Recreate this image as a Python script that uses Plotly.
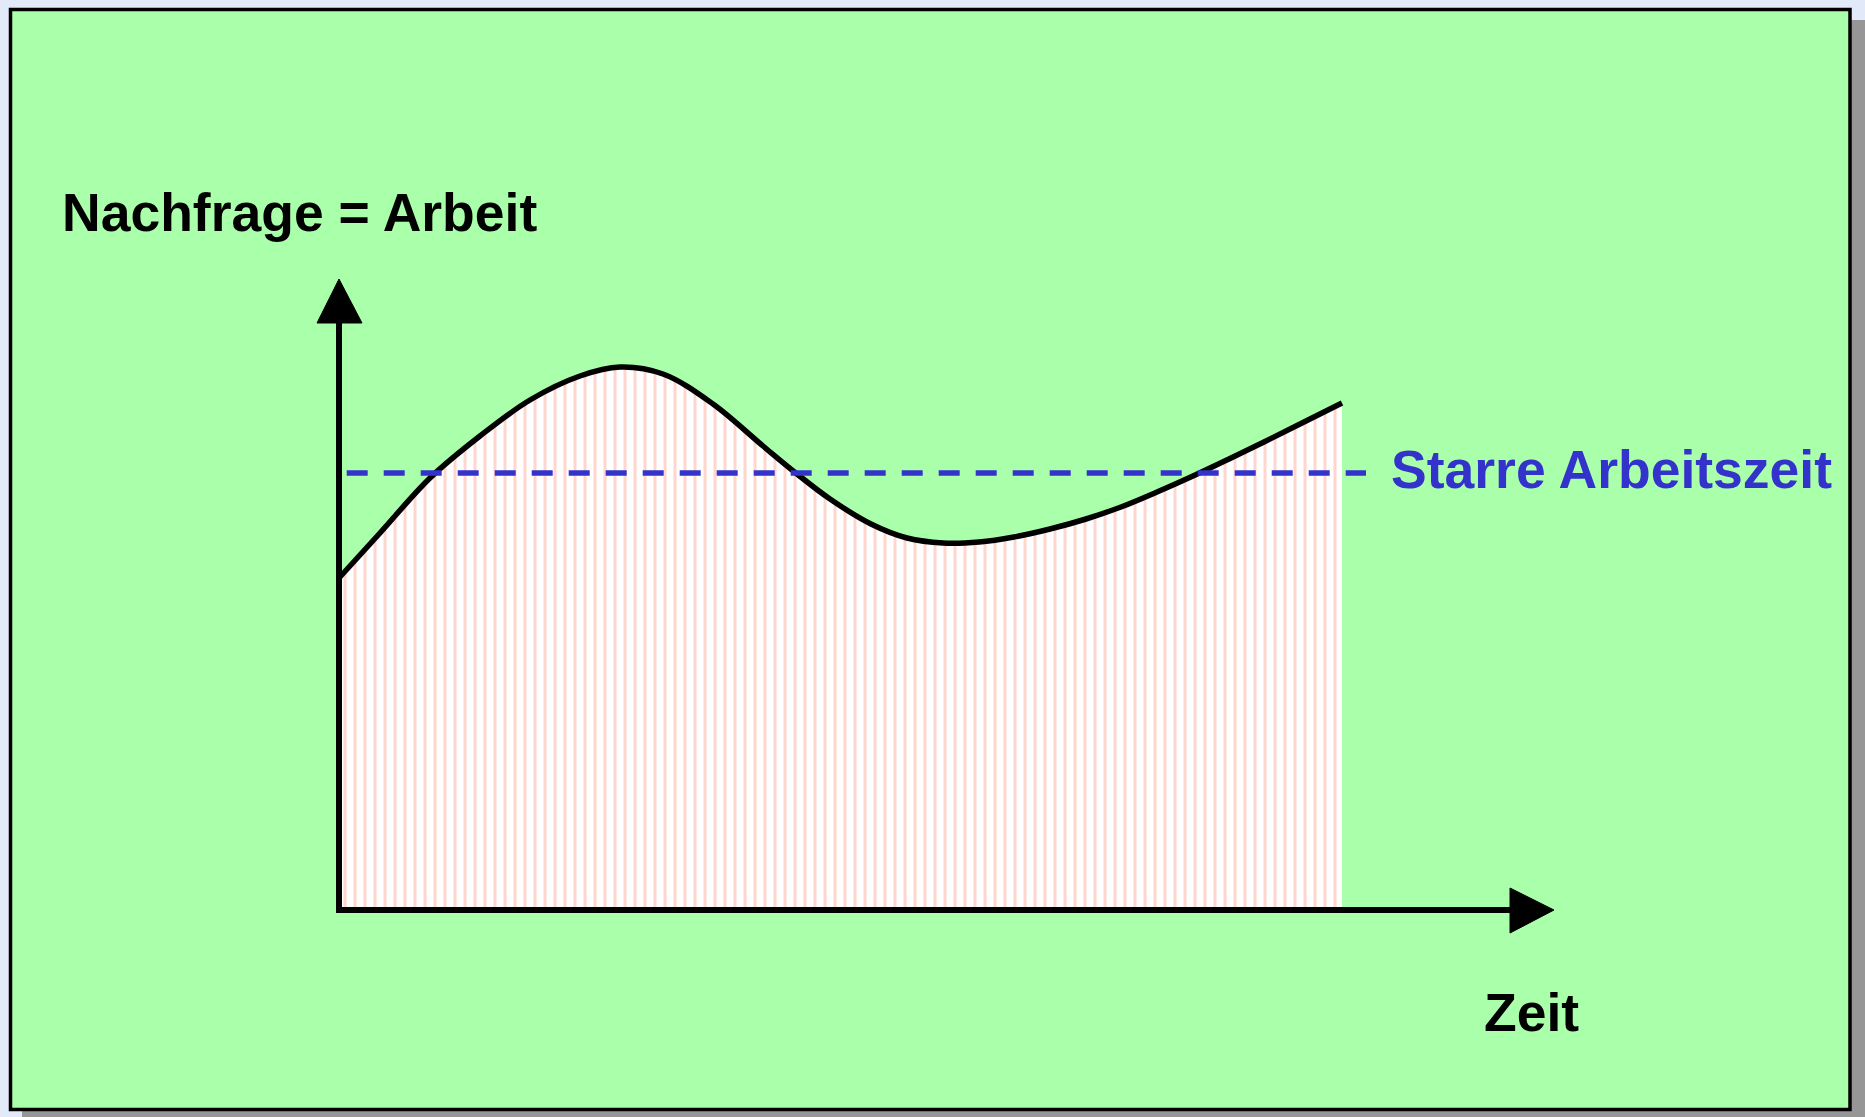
import plotly.graph_objects as go

# ---- data (chart units: time offset and demand above the time axis) ----
time = [0, 41, 91, 141, 191, 241, 281, 324, 374, 424, 458, 491, 532, 568, 604,
        640, 675, 711, 747, 782, 818, 854, 890, 925, 963, 1003]
demand = [332, 377, 432, 474, 510, 534, 543, 536, 506, 464, 436, 411, 386, 372, 367,
          368, 373, 381, 391, 403, 418, 434, 451, 468, 487, 507]
fixed_level = 437          # "Starre Arbeitszeit"
fixed_span = [7.7, 1027]

y_label = "Nachfrage = Arbeit"
x_label = "Zeit"
fixed_label = "Starre Arbeitszeit"

W, H = 1865, 1117
OX, OY = 339, 910          # pixel position of the axis origin


def px(x):
    return x / W


def py(y):
    return 1 - y / H


fig = go.Figure()

fig.add_trace(go.Scatter(
    x=time, y=demand, mode="lines",
    line=dict(color="black", width=5.5, shape="spline", smoothing=1.0, simplify=False),
    fill="tozeroy", fillcolor="white",
    fillpattern=dict(shape="|", bgcolor="white", fgcolor="#ffac9c",
                     size=10, solidity=0.3),
    hoverinfo="skip", showlegend=False,
))

fig.add_trace(go.Scatter(
    x=fixed_span, y=[fixed_level, fixed_level], mode="lines",
    line=dict(color="#3333cc", width=5.5, dash="21px,16px"),
    hoverinfo="skip", showlegend=False,
))

shapes = []
# shadow
shapes.append(dict(type="rect", xref="paper", yref="paper",
                   x0=px(22), x1=px(1880), y0=py(20), y1=py(1130),
                   fillcolor="#969696", line=dict(width=0), layer="below"))
# green panel
shapes.append(dict(type="rect", xref="paper", yref="paper",
                   x0=px(10.5), x1=px(1850), y0=py(9.5), y1=py(1109.5),
                   fillcolor="#aaffaa", line=dict(color="black", width=3.5),
                   layer="below"))
# vertical axis line + arrow
shapes.append(dict(type="line", xref="paper", yref="paper",
                   x0=px(OX), x1=px(OX), y0=py(OY + 3), y1=py(320),
                   line=dict(color="black", width=6), layer="above"))
shapes.append(dict(type="path", xref="paper", yref="paper",
                   path=f"M {px(OX)} {py(279)} L {px(317)} {py(323)} L {px(362)} {py(323)} Z",
                   fillcolor="black", line=dict(color="black", width=1), layer="above"))
# horizontal axis line + arrow
shapes.append(dict(type="line", xref="paper", yref="paper",
                   x0=px(OX - 3), x1=px(1515), y0=py(OY), y1=py(OY),
                   line=dict(color="black", width=6), layer="above"))
shapes.append(dict(type="path", xref="paper", yref="paper",
                   path=f"M {px(1554)} {py(OY)} L {px(1510)} {py(888)} L {px(1510)} {py(933)} Z",
                   fillcolor="black", line=dict(color="black", width=1), layer="above"))

font_common = dict(family="Liberation Sans, Arial, sans-serif", size=53.5, weight="bold")
annotations = [
    dict(text=y_label, xref="paper", yref="paper", x=px(60), y=py(213),
         xanchor="left", yanchor="middle", showarrow=False,
         font=dict(color="black", **font_common)),
    dict(text=fixed_label, xref="paper", yref="paper", x=px(1389), y=py(469.5),
         xanchor="left", yanchor="middle", showarrow=False,
         font=dict(color="#3333cc", **font_common)),
    dict(text=x_label, xref="paper", yref="paper", x=px(1482), y=py(1012),
         xanchor="left", yanchor="middle", showarrow=False,
         font=dict(color="black", **font_common)),
]

fig.update_layout(
    width=W, height=H,
    margin=dict(l=0, r=0, t=0, b=0, pad=0),
    paper_bgcolor="#e2eaf9",
    plot_bgcolor="rgba(0,0,0,0)",
    xaxis=dict(range=[-OX, W - OX], visible=False, fixedrange=True),
    yaxis=dict(range=[OY - H, OY], visible=False, fixedrange=True),
    shapes=shapes,
    annotations=annotations,
    hovermode=False,
)

fig.write_html(
    "out.html",
    config={"displayModeBar": False, "staticPlot": True},
    post_script="document.body.style.margin='0';document.body.style.overflow='hidden';",
)
